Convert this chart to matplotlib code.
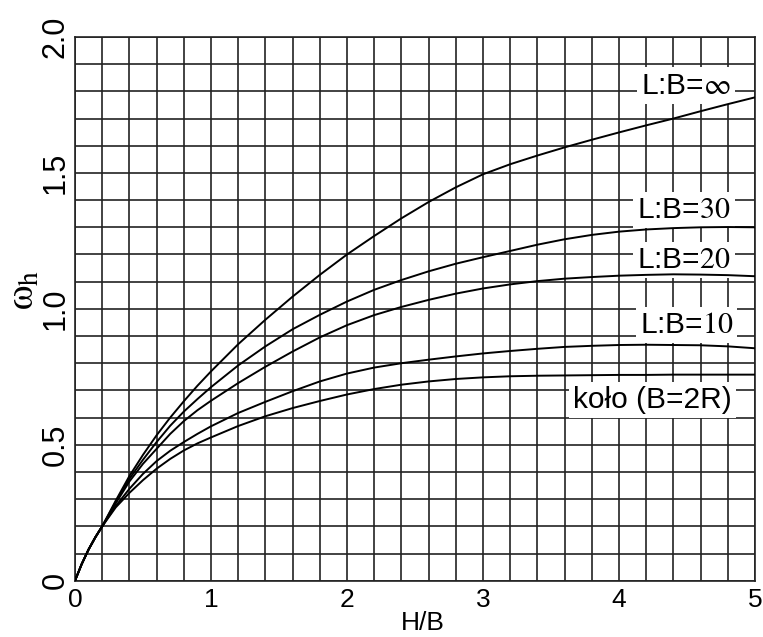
import numpy as np
import matplotlib
matplotlib.use("Agg")
import matplotlib.pyplot as plt
from matplotlib.ticker import MultipleLocator

plt.rcParams["font.family"] = ["Liberation Sans", "DejaVu Sans"]
plt.rcParams["mathtext.fontset"] = "stix"

# H/B sample points and omega_h read for each L:B ratio
hb = [0, 0.05, 0.1, 0.15, 0.2, 0.3, 0.4, 0.5, 0.6, 0.7, 0.8, 0.9, 1.0,
      1.2, 1.4, 1.6, 1.8, 2.0, 2.2, 2.4, 2.6, 2.8, 3.0, 3.2, 3.4, 3.6,
      3.8, 4.0, 4.2, 4.4, 4.6, 4.8, 5.0]
w_inf = [0, 0.062, 0.115, 0.16, 0.2, 0.295, 0.385, 0.463, 0.535, 0.6, 0.66,
         0.717, 0.77, 0.87, 0.96, 1.045, 1.125, 1.2, 1.268, 1.333, 1.393,
         1.447, 1.495, 1.532, 1.564, 1.594, 1.622, 1.649, 1.675, 1.70,
         1.727, 1.753, 1.778]
w_30 = [0, 0.062, 0.115, 0.16, 0.2, 0.29, 0.375, 0.445, 0.51, 0.57, 0.622,
        0.668, 0.712, 0.792, 0.862, 0.925, 0.978, 1.027, 1.07, 1.106, 1.138,
        1.166, 1.19, 1.213, 1.236, 1.256, 1.272, 1.284, 1.292, 1.297, 1.30,
        1.301, 1.30]
w_20 = [0, 0.062, 0.115, 0.16, 0.2, 0.285, 0.365, 0.43, 0.485, 0.54, 0.587,
        0.627, 0.662, 0.727, 0.787, 0.843, 0.895, 0.94, 0.977, 1.007, 1.033,
        1.056, 1.075, 1.09, 1.102, 1.111, 1.117, 1.122, 1.125, 1.127, 1.126,
        1.124, 1.12]
w_10 = [0, 0.062, 0.115, 0.16, 0.2, 0.275, 0.338, 0.393, 0.44, 0.478, 0.51,
        0.54, 0.568, 0.617, 0.658, 0.697, 0.733, 0.762, 0.784, 0.80, 0.813,
        0.825, 0.836, 0.845, 0.853, 0.86, 0.864, 0.867, 0.868, 0.867, 0.866,
        0.862, 0.855]
w_circle = [0, 0.062, 0.115, 0.16, 0.2, 0.27, 0.323, 0.37, 0.412, 0.448,
            0.479, 0.505, 0.527, 0.569, 0.605, 0.635, 0.661, 0.685, 0.705,
            0.721, 0.733, 0.742, 0.748, 0.752, 0.754, 0.755, 0.756, 0.757,
            0.757, 0.758, 0.758, 0.758, 0.758]

series = [w_inf, w_30, w_20, w_10, w_circle]
labels = [r"L:B=$\infty$", r"L:B=$\mathrm{30}$", r"L:B=$\mathrm{20}$",
          r"L:B=$\mathrm{10}$", "koło (B=2R)"]
label_xy = [(4.82, 1.792), (4.82, 1.334), (4.82, 1.150), (4.84, 0.911),
            (4.83, 0.635)]

fig = plt.figure(figsize=(7.63, 6.37), dpi=100)
ax = fig.add_axes([75 / 763, 56.3 / 637, 680 / 763, 543.7 / 637])

# curves sit above the white label boxes so they are never clipped
for w in series:
    ax.plot(hb, w, color="black", lw=1.4, zorder=5)

for txt, (x, y) in zip(labels, label_xy):
    ax.text(x, y, txt, ha="right", va="baseline", fontsize=21.5, zorder=4,
            bbox=dict(facecolor="white", edgecolor="none", pad=3))

ax.set_xlim(0, 5)
ax.set_ylim(0, 2.0)
ax.xaxis.set_major_locator(MultipleLocator(1))
ax.xaxis.set_minor_locator(MultipleLocator(0.2))
ax.yaxis.set_minor_locator(MultipleLocator(0.1))
ax.set_yticks([0, 0.5, 1.0, 1.5, 2.0])
ax.set_yticklabels(["0", "0.5", "1.0", "1.5", "2.0"], rotation=90,
                   va="center", fontsize=22)
ax.tick_params(axis="x", which="major", labelsize=19, length=0, pad=5)
ax.tick_params(axis="y", which="major", length=0, pad=3)
ax.tick_params(which="minor", length=0)
ax.grid(which="both", color="#222222", lw=1.2)
ax.set_axisbelow(True)
for sp in ax.spines.values():
    sp.set_color("#222222")
    sp.set_linewidth(1.2)

ax.text(2.56, -0.078, "H/B", transform=ax.get_xaxis_transform(),
        ha="center", va="center", fontsize=19)
ax.text(-0.075, 0.535, r"$\mathrm{\omega}_\mathrm{h}$", transform=ax.transAxes,
        rotation=90, ha="center", va="center", fontsize=28)

fig.savefig("out.png", dpi=100)
